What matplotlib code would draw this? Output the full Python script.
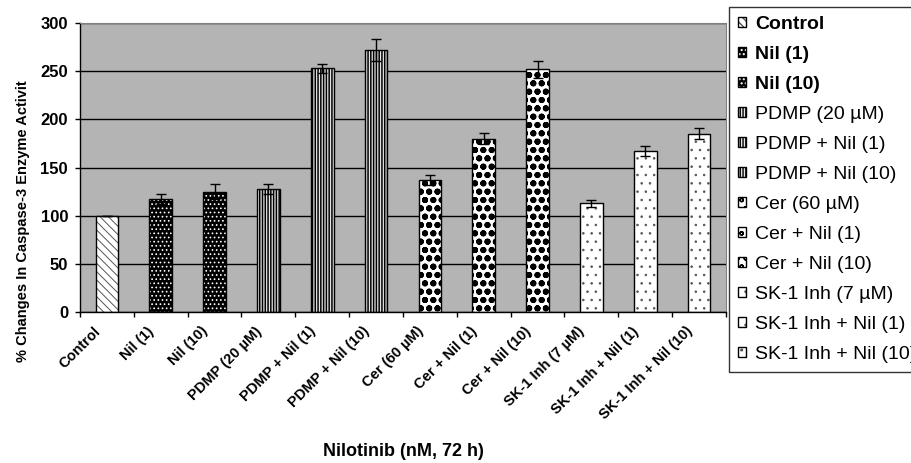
import numpy as np
import matplotlib.pyplot as plt
import matplotlib.transforms as mtransforms
from matplotlib.legend_handler import HandlerTuple

plt.rcParams['font.family'] = ['Liberation Sans', 'DejaVu Sans']

categories = ["Control", "Nil (1)", "Nil (10)", "PDMP (20 µM)", "PDMP + Nil (1)",
              "PDMP + Nil (10)", "Cer (60 µM)", "Cer + Nil (1)", "Cer + Nil (10)",
              "SK-1 Inh (7 µM)", "SK-1 Inh + Nil (1)", "SK-1 Inh + Nil (10)"]
legend_labels = ["Control", "Nil (1)", "Nil (10)", "PDMP (20 µM)", "PDMP + Nil (1)",
                 "PDMP + Nil (10)", "Cer (60 µM)", "Cer + Nil (1)", "Cer + Nil (10)",
                 "SK-1 Inh (7 µM)", "SK-1 Inh + Nil (1)", "SK-1 Inh + Nil (10)"]
means = [100, 117, 125, 128, 253, 272, 137, 180, 252, 113, 167, 185]
errors = [0, 5, 8, 5, 4.5, 11, 5, 6, 9, 3.5, 5, 5.5]

# style per group: (face, hatch, hatch colour, hatch linewidth)
styles = {
    "ctrl": ("white", "\\\\\\\\", "#555555", 0.7),
    "nil": ("black", "....", "white", 0.7),
    "pdmp": ("#e6e6e6", "||||||", "black", 1.1),
    "cer": ("white", "oo", "black", 2.0),
    "sk": ("white", "..", "#555555", 0.6),
}
groups = ["ctrl", "nil", "nil", "pdmp", "pdmp", "pdmp", "cer", "cer", "cer", "sk", "sk", "sk"]

W, H = 912, 463
fig = plt.figure(figsize=(W / 100, H / 100), dpi=100)
ax = fig.add_axes([80 / W, 1 - 312 / H, (726 - 80) / W, (312 - 23) / H])
ax.set_facecolor("#b4b4b4")

x = np.arange(len(categories))
handles = []
for i, g in enumerate(groups):
    face, hatch, hcol, hlw = styles[g]
    b1 = ax.bar(x[i], means[i], width=0.42, color=face, edgecolor=hcol,
                hatch=hatch, linewidth=0, zorder=2)[0]
    if hasattr(b1, "set_hatch_linewidth"):
        b1.set_hatch_linewidth(hlw)
    b2 = ax.bar(x[i], means[i], width=0.42, fill=False, edgecolor="black",
                linewidth=1.0, zorder=3)[0]
    handles.append((b1, b2))

ax.errorbar(x, means, yerr=errors, fmt="none", ecolor="black", elinewidth=1.0,
            capsize=3.6, capthick=1.0, zorder=4)

ax.set_xlim(-0.5, len(categories) - 0.5)
ax.set_ylim(0, 300)
ax.set_yticks(np.arange(0, 301, 50))
ax.yaxis.grid(True, color="black", linewidth=1.0, zorder=1)
ax.set_axisbelow(True)
for lbl in ax.get_yticklabels():
    lbl.set_fontweight("bold")
ax.tick_params(axis="y", length=3.6, width=1, labelsize=12, pad=5)

ax.set_xticks(x)
ax.set_xticks(np.arange(-0.5, len(categories)), minor=True)
ax.tick_params(axis="x", which="major", length=0, pad=0)
ax.tick_params(axis="x", which="minor", length=3.6, width=1)
ax.set_xticklabels(categories, rotation=45, ha="right", va="center",
                   rotation_mode="anchor", fontsize=10.5, fontweight="bold")
off = mtransforms.ScaledTranslation(-9 / 100, -17 / 100, fig.dpi_scale_trans)
for lbl in ax.get_xticklabels():
    lbl.set_transform(lbl.get_transform() + off)

for s in ["top", "right"]:
    ax.spines[s].set_color("#808080")
for s in ["left", "bottom"]:
    ax.spines[s].set_color("black")
    ax.spines[s].set_linewidth(1.0)

fig.text(23 / W, 1 - 221 / H, "% Changes In Caspase-3 Enzyme Activit", rotation=90,
         ha="center", va="center", fontsize=10.5, fontweight="bold")
fig.text(403 / W, 1 - 452 / H, "Nilotinib (nM, 72 h)", ha="center", va="center",
         fontsize=13, fontweight="bold")

leg = fig.legend(handles, legend_labels, loc="upper left",
                 bbox_to_anchor=(729 / W, 1 - 7 / H), bbox_transform=fig.transFigure,
                 borderaxespad=0, frameon=True, fancybox=False, edgecolor="black",
                 fontsize=14, handlelength=0.45, handleheight=0.45, handletextpad=0.45,
                 labelspacing=0.67, borderpad=0.45,
                 handler_map={tuple: HandlerTuple(ndivide=1)})
leg.get_frame().set_linewidth(1.0)
for t in leg.get_texts()[:3]:
    t.set_fontweight("bold")

fig.savefig("out.png", dpi=100)
